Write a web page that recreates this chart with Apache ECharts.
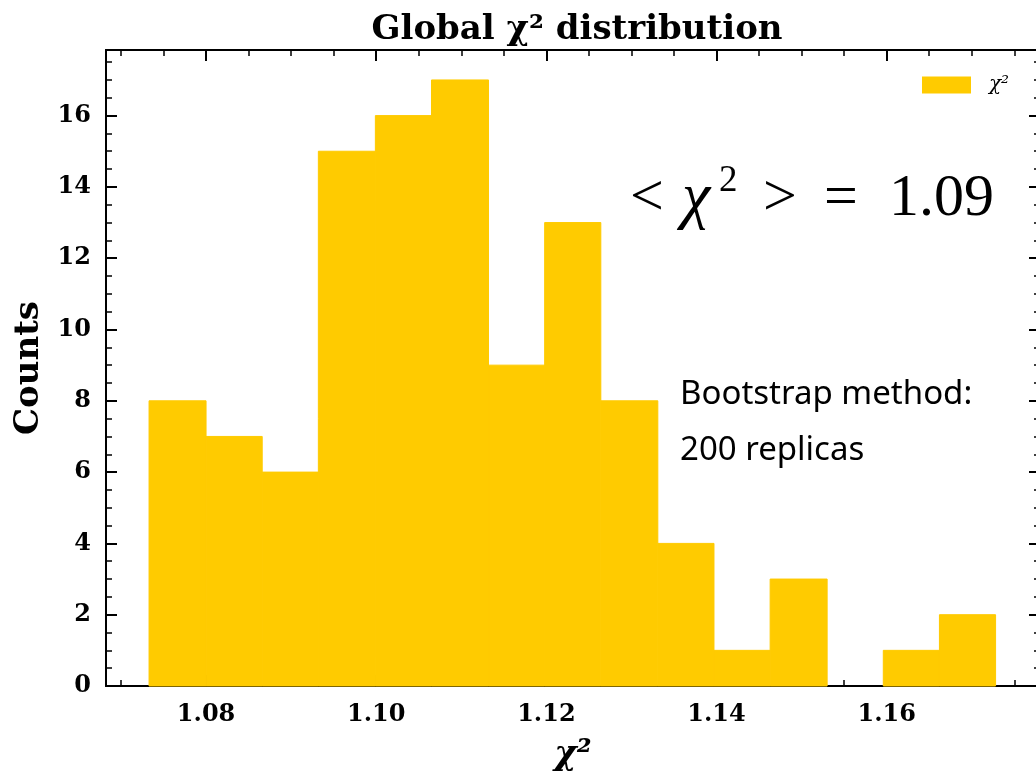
<!DOCTYPE html>
<html>
<head>
<meta charset="utf-8">
<script src="https://cdn.jsdelivr.net/npm/echarts@6/dist/echarts.min.js"></script>
<style>
  html, body { margin: 0; padding: 0; background: #fff; }
  #chart { width: 1036px; height: 778px; }
</style>
</head>
<body>
<div id="chart"></div>
<script>
// histogram bin edges (chi2) and counts per bin
const binEdges = [1.0733, 1.0800, 1.0866, 1.0932, 1.0999, 1.1065, 1.1132, 1.1198,
                  1.1264, 1.1331, 1.1397, 1.1463, 1.1530, 1.1596, 1.1662, 1.1728]
const counts = [8, 7, 6, 15, 16, 17, 9, 13, 8, 4, 1, 3, 0, 1, 2]

// tick positions on the chi2 axis
const xMajorTicks = [1.08, 1.10, 1.12, 1.14, 1.16]
const xMinorTicks = [1.070, 1.075, 1.085, 1.090, 1.095, 1.105, 1.110, 1.115,
                     1.125, 1.130, 1.135, 1.145, 1.150, 1.155, 1.165, 1.170, 1.175]

const xMin = 1.06824
const xMax = 1.17802
const yMax = 17.84
const barColor = '#ffcb00'
const serif = '"DejaVu Serif", serif'

const bins = counts.map((c, i) => [binEdges[i], binEdges[i + 1], c])

const chart = echarts.init(document.getElementById('chart'))

function xAx(pos, major, withLabel) {
  return {
    type: 'value',
    position: pos,
    min: xMin,
    max: xMax,
    axisLine: { show: true, onZero: false, lineStyle: { color: '#000', width: 2 } },
    axisTick: {
      show: true, inside: true,
      length: major ? 11 : 6,
      customValues: major ? xMajorTicks : xMinorTicks,
      lineStyle: { color: '#000', width: major ? 2 : 1.5 }
    },
    axisLabel: {
      show: withLabel,
      customValues: xMajorTicks,
      formatter: v => v.toFixed(2),
      fontFamily: serif, fontWeight: 'bold', fontSize: 24, color: '#000',
      margin: 17
    },
    splitLine: { show: false }
  }
}

function yAx(pos, withLabel) {
  return {
    type: 'value',
    position: pos,
    min: 0,
    max: yMax,
    interval: 2,
    axisLine: { show: true, onZero: false, lineStyle: { color: '#000', width: 2 } },
    axisTick: { show: true, inside: true, length: 11, lineStyle: { color: '#000', width: 2 } },
    minorTick: { show: true, splitNumber: 4, length: 6, lineStyle: { color: '#000', width: 1.5 } },
    axisLabel: {
      show: withLabel,
      showMaxLabel: false,
      fontFamily: serif, fontWeight: 'bold', fontSize: 24, color: '#000',
      margin: 15
    },
    splitLine: { show: false }
  }
}

const xBottom = xAx('bottom', true, true)
xBottom.name = 'χ²'
xBottom.nameLocation = 'middle'
xBottom.nameGap = 52
xBottom.nameTextStyle = { fontFamily: serif, fontStyle: 'italic', fontWeight: 'bold', fontSize: 34, color: '#000' }

const yLeft = yAx('left', true)
yLeft.name = 'Counts'
yLeft.nameLocation = 'middle'
yLeft.nameRotate = 90
yLeft.nameGap = 60
yLeft.nameTextStyle = { fontFamily: serif, fontWeight: 'bold', fontSize: 34, color: '#000' }

chart.setOption({
  animation: false,
  title: {
    text: 'Global χ² distribution',
    left: 572,
    textAlign: 'center',
    top: 8,
    textStyle: { fontFamily: serif, fontWeight: 'bold', fontSize: 34, color: '#000' }
  },
  legend: {
    left: 922,
    top: 75,
    padding: 0,
    itemWidth: 49,
    itemHeight: 17,
    icon: 'rect',
    data: ['χ²'],
    textStyle: { fontFamily: serif, fontStyle: 'italic', fontSize: 20, color: '#000', padding: [0, 0, 0, 13] }
  },
  grid: { left: 106, top: 50, width: 934, height: 636, containLabel: false, outerBoundsMode: 'none' },
  xAxis: [xBottom, xAx('bottom', false, false), xAx('top', true, false), xAx('top', false, false)],
  yAxis: [yLeft, yAx('right', false)],
  graphic: [
    { type: 'text', x: 630, y: 199, style: { text: '<', font: '60px "Liberation Serif"', fill: '#000', verticalAlign: 'middle' } },
    { type: 'text', x: 682, y: 199, style: { text: 'χ', font: 'italic 64px "Liberation Serif"', fill: '#000', verticalAlign: 'middle' } },
    { type: 'text', x: 719, y: 181, style: { text: '2', font: '37px "Liberation Serif"', fill: '#000', verticalAlign: 'middle' } },
    { type: 'text', x: 763, y: 199, style: { text: '>', font: '60px "Liberation Serif"', fill: '#000', verticalAlign: 'middle' } },
    { type: 'text', x: 824, y: 199, style: { text: '=', font: '60px "Liberation Serif"', fill: '#000', verticalAlign: 'middle' } },
    { type: 'text', x: 889, y: 199, style: { text: '1.09', font: '60px "Liberation Serif"', fill: '#000', verticalAlign: 'middle' } },
    { type: 'text', x: 680, y: 395, style: { text: 'Bootstrap method:', font: '33px "Noto Sans"', fill: '#000', verticalAlign: 'middle' } },
    { type: 'text', x: 680, y: 451, style: { text: '200 replicas', font: '33px "Noto Sans"', fill: '#000', verticalAlign: 'middle' } }
  ],
  series: [{
    name: 'χ²',
    type: 'custom',
    xAxisIndex: 0,
    yAxisIndex: 0,
    itemStyle: { color: barColor },
    data: bins,
    encode: { x: [0, 1], y: 2 },
    renderItem: (params, api) => {
      if (!api.value(2)) return null
      const p0 = api.coord([api.value(0), 0])
      const p1 = api.coord([api.value(1), api.value(2)])
      return {
        type: 'rect',
        shape: { x: p0[0], y: p1[1], width: p1[0] - p0[0], height: p0[1] - p1[1] },
        style: { fill: barColor, stroke: barColor, lineWidth: 1 }
      }
    }
  }]
})

window.addEventListener('resize', () => { chart.resize() })
</script>
</body>
</html>
